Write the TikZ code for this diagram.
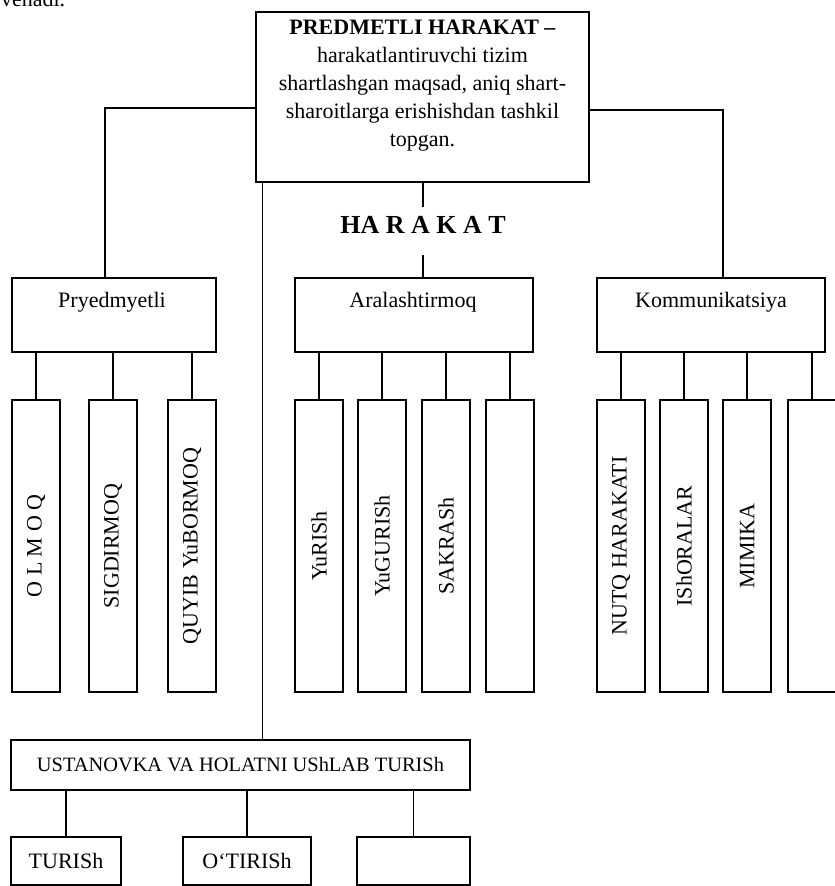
\documentclass[tikz,border=0pt]{standalone}
\usepackage{fontspec}
\setmainfont{Liberation Serif}
\begin{document}
\begin{tikzpicture}[x=0.5pt,y=-0.5pt,
    every node/.style={font=\fontsize{11}{14}\selectfont},
    box/.style={draw,line width=0.75pt,inner sep=0pt},
    vbox/.style={box,rotate=90,minimum width=146pt,minimum height=24pt},
    lowbox/.style={box,minimum height=24pt}]
  \useasboundingbox (0,0) rectangle (834,886);
  \node[anchor=base west] (frag) at (-6,7) {venadi.};
  % main box
  \node[box,minimum width=166.5pt,minimum height=85pt] (top) at (422.5,97) {};
  \node[align=center] (toptext) at (422.5,86)
    {\textbf{PREDMETLI HARAKAT –}\\harakatlantiruvchi tizim\\shartlashgan maqsad, aniq shart-\\sharoitlarga erishishdan tashkil\\topgan.};
  \node[font=\bfseries\fontsize{13}{15}\selectfont,inner sep=0pt,
    minimum height=24pt,text depth=6pt] (harakat) at (423,231) {HA R A K A T};
  % groups
  \node[box,minimum width=102pt,minimum height=37pt] (pry) at (114,315) {};
  \node (prytext) at (112,302) {Pryedmyetli};
  \node[box,minimum width=119pt,minimum height=37pt] (ara) at (414,315) {};
  \node (aratext) at (413,302) {Aralashtirmoq};
  \node[box,minimum width=114pt,minimum height=37pt] (kom) at (711,315) {};
  \node (komtext) at (711,302) {Kommunikatsiya};
  % kinds
  \node[vbox] (olmoq) at (36,546) {O L M O Q};
  \node[vbox] (sigdir) at (113,546) {SIGDIRMOQ};
  \node[vbox] (quyib) at (192,546) {QUYIB YuBORMOQ};
  \node[vbox] (yurish) at (319,546) {YuRISh};
  \node[vbox] (yugurish) at (382,546) {YuGURISh};
  \node[vbox] (sakrash) at (446,546) {SAKRASh};
  \node[vbox] (ara4) at (510,546) {};
  \node[vbox] (nutq) at (621,546) {NUTQ HARAKATI};
  \node[vbox] (ishora) at (684,546) {IShORALAR};
  \node[vbox] (mimika) at (747,546) {MIMIKA};
  \node[vbox] (kom4) at (812,546) {};
  % posture
  \node[box,minimum width=229.5pt,minimum height=25pt,font=\fontsize{10.2}{12}\selectfont]
    (ust) at (240.5,765) {USTANOVKA VA HOLATNI UShLAB TURISh};
  \node[lowbox,minimum width=55pt] (turish) at (66,861) {TURISh};
  \node[lowbox,minimum width=64pt] (otirish) at (247,861) {O‘TIRISh};
  \node[lowbox,minimum width=56.5pt] (ust3) at (413.5,861) {};
  \begin{scope}[line width=0.6pt]
    \draw ([yshift=-5.5pt]top.west) -| ([xshift=-4.5pt]pry.north);
    \draw ([yshift=-6.5pt]top.east) -| ([xshift=6pt]kom.north);
    \draw (top.south -| harakat.north) -- (harakat.north);
    \draw (harakat.south) -- (harakat.south |- ara.north);
    \draw ([xshift=3.5pt]top.south west) -- ([xshift=3.5pt]top.south west |- ust.north);
    \draw (pry.south -| olmoq.east) -- (olmoq.east);
    \draw (pry.south -| sigdir.east) -- (sigdir.east);
    \draw (pry.south -| quyib.east) -- (quyib.east);
    \draw (ara.south -| yurish.east) -- (yurish.east);
    \draw (ara.south -| yugurish.east) -- (yugurish.east);
    \draw (ara.south -| sakrash.east) -- (sakrash.east);
    \draw (ara.south -| ara4.east) -- (ara4.east);
    \draw (kom.south -| nutq.east) -- (nutq.east);
    \draw (kom.south -| ishora.east) -- (ishora.east);
    \draw (kom.south -| mimika.east) -- (mimika.east);
    \draw (kom.south -| kom4.east) -- (kom4.east);
    \draw (ust.south -| turish.north) -- (turish.north);
    \draw (ust.south -| otirish.north) -- (otirish.north);
    \draw (ust.south -| ust3.north) -- (ust3.north);
  \end{scope}
\end{tikzpicture}
\end{document}
